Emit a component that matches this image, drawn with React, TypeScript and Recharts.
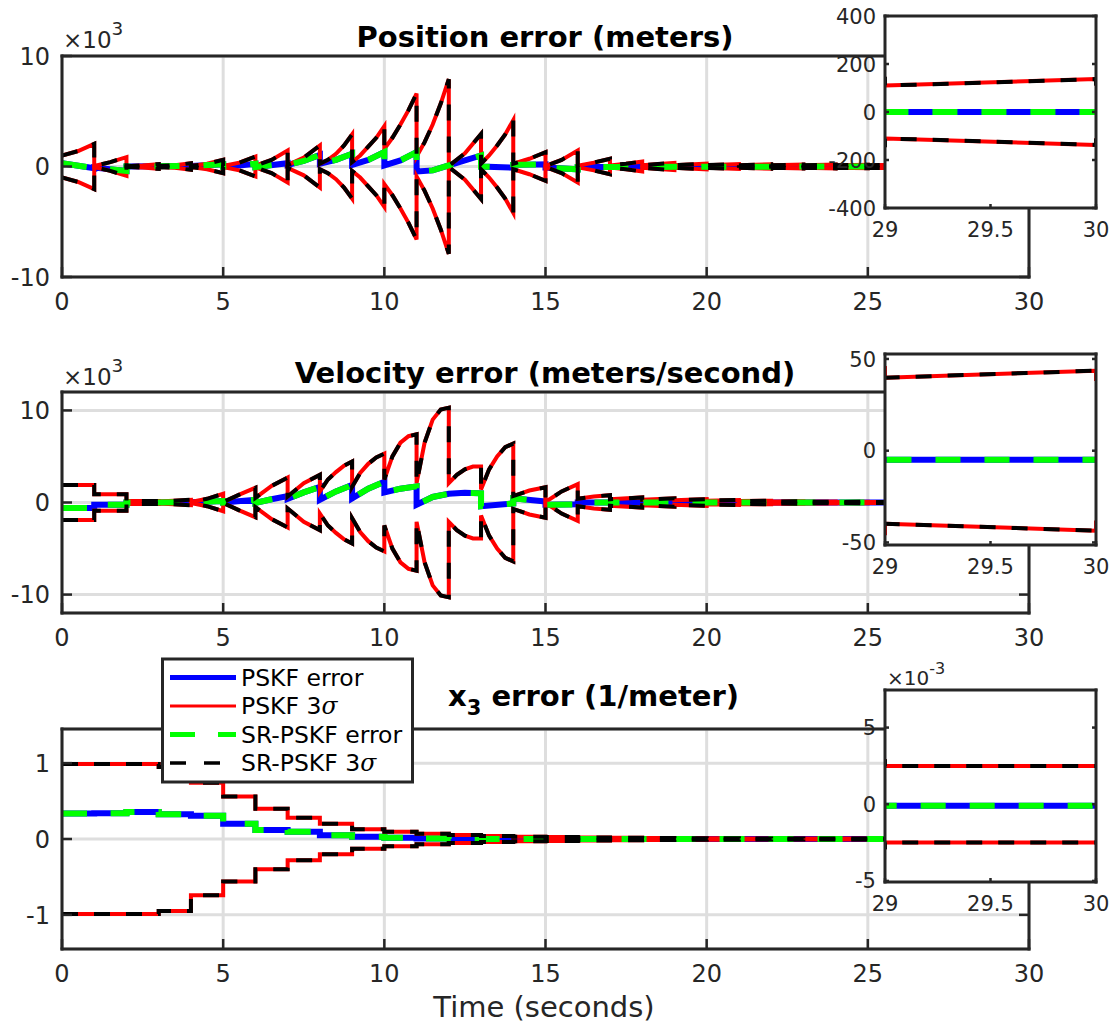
// Three-panel filter error plot (position, velocity, x3) with 3-sigma bounds
// and a zoomed inset on the last second of each panel.

import React from 'react';
import { LineChart, Line, XAxis, YAxis, CartesianGrid } from 'recharts';

const FONT = '"DejaVu Sans", Verdana, sans-serif';
const INK = '#262626';
const GRID = '#dedede';
const BLUE = '#0000ff';
const RED = '#ff0000';
const GREEN = '#00ff00';
const BLACK = '#000000';

type Pair = [number, number];
type Pt = { t: number; v: number };

// position, x10^3 m  ([time, value]); lower bound is the negative of sigma
const posSigma: Pair[] = [
  [0, 1.0], [0.5, 1.4], [1, 2.05],
  [1, 0.05], [1.5, 0.4], [2, 0.85],
  [2, 0.03], [2.5, 0.1], [3, 0.22],
  [3, 0.05], [3.5, 0.12], [4, 0.3],
  [4, 0.05], [4.5, 0.25], [5, 0.6],
  [5, 0.05], [5.5, 0.35], [6, 0.9],
  [6, 0.08], [6.5, 0.6], [7, 1.45],
  [7, 0.12], [7.5, 0.8], [8, 1.9],
  [8, 0.25], [8.25, 0.6], [8.5, 1.15], [8.75, 1.9], [9, 2.9],
  [9, 0.4], [9.25, 1.0], [9.5, 1.8], [9.75, 2.6], [10, 3.65],
  [10, 1.6], [10.25, 2.6], [10.5, 3.8], [10.75, 5.1], [11, 6.6],
  [11, 0.9], [11.25, 2.2], [11.5, 3.8], [11.75, 5.7], [12, 7.9],
  [12, 0.05], [12.5, 1.2], [13, 2.95],
  [13, 0.25], [13.25, 1.0], [13.5, 1.9], [13.75, 2.9], [14, 4.2],
  [14, 0.25], [14.5, 0.7], [15, 1.3],
  [15, 0.05], [15.5, 0.6], [16, 1.45],
  [16, 0.08], [16.5, 0.35], [17, 0.7],
  [17, 0.1], [17.5, 0.25], [18, 0.45],
  [18, 0.12], [19, 0.33], [19, 0.12], [20, 0.27], [20, 0.12], [21, 0.23],
  [21, 0.11], [22, 0.2], [22, 0.11], [23, 0.18], [23, 0.11], [24, 0.17],
  [24, 0.11], [25, 0.16], [25, 0.11], [26, 0.15], [26, 0.11], [27, 0.145],
  [27, 0.11], [28, 0.14], [28, 0.11], [29, 0.138], [29, 0.11], [30, 0.137],
  [30, 0.11],
];
const posErr: Pair[] = [
  [0, 0.3], [1, -0.15], [1, -0.1], [2, -0.4], [2, 0], [4, 0.05], [5, 0.2],
  [5, 0], [5.5, 0.1], [6, 0.25], [6, -0.05], [7, 0.3], [7, 0.15], [7.5, 0.5],
  [8, 1.05], [8, 0.25], [8.5, 0.6], [9, 1.15], [9, 0.15], [9.5, 0.6], [10, 1.3],
  [10, 0.1], [10.5, 0.55], [11, 1.3], [11, -0.45], [11.5, -0.35], [12, 0.1],
  [12.5, 0.55], [13, 1.0], [13, 0], [14, -0.1], [14, 0.15], [15, 0.2],
  [15, -0.1], [16, -0.25], [16, -0.05], [18, -0.05], [20, -0.02], [25, 0], [30, 0],
];

// velocity, x10^3 m/s
const velSigma: Pair[] = [
  [0, 1.9], [1, 1.9], [1, 0.9], [2, 0.9], [2, 0.15], [3, 0.15],
  [3, 0.12], [4, 0.3], [4, 0.05], [4.5, 0.4], [5, 0.95],
  [5, 0.05], [5.5, 0.85], [6, 1.6], [6, 0.5], [6.5, 1.8], [7, 2.7],
  [7, 0.65], [7.5, 2.1], [8, 3.0],
  [8, 1.2], [8.25, 2.5], [8.5, 3.3], [8.75, 4.0], [9, 4.45],
  [9, 1.7], [9.25, 3.2], [9.5, 4.2], [9.75, 4.9], [10, 5.3],
  [10, 2.5], [10.25, 5.0], [10.5, 6.5], [10.75, 7.2], [11, 7.4],
  [11, 2.1], [11.25, 6.5], [11.5, 9.0], [11.75, 10.1], [12, 10.3],
  [12, 2.1], [12.25, 3.0], [12.5, 3.6], [12.75, 3.9], [13, 3.9],
  [13, 1.4], [13.25, 3.6], [13.5, 5.0], [13.75, 6.0], [14, 6.4],
  [14, 0.7], [14.5, 1.3], [15, 1.65],
  [15, 0.05], [15.5, 1.2], [16, 2.0],
  [16, 0.4], [16.5, 0.65], [17, 0.8],
  [17, 0.35], [18, 0.55], [18, 0.3], [19, 0.45], [19, 0.25], [20, 0.36],
  [20, 0.2], [21, 0.28], [21, 0.15], [22, 0.2], [22, 0.1], [23, 0.14],
  [23, 0.075], [24, 0.1], [24, 0.06], [25, 0.075], [25, 0.05], [26, 0.06],
  [26, 0.045], [27, 0.052], [27, 0.042], [28, 0.048], [28, 0.04], [29, 0.045],
  [29, 0.0398], [30, 0.0436], [30, 0.038],
];
const velErr: Pair[] = [
  [0, -0.6], [1, -0.6], [1, -0.25], [2, -0.25], [2, 0], [4, 0.02], [5, 0.15],
  [5, 0], [6, 0.3], [6, -0.05], [6.5, 0.35], [7, 0.7], [7, 0.4], [7.5, 1.1],
  [8, 1.7], [8, 0.3], [8.5, 1.2], [9, 1.9], [9, 0.45], [9.5, 1.5], [10, 2.25],
  [10, 1.1], [10.5, 1.5], [11, 1.75], [11, -0.25], [11.5, 0.6], [12, 0.95],
  [12.5, 1.05], [13, 1.0], [13, -0.4], [14, -0.1], [14, 0.45], [15, 0.1],
  [15, -0.25], [16, -0.2], [16, 0], [17, 0], [20, -0.005], [30, -0.005],
];

// x3, 1/m: each value holds until the next time (step)
const x3Sigma: Pair[] = [
  [0, 0.99], [3, 0.95], [4, 0.74], [5, 0.56], [6, 0.4], [7, 0.28], [8, 0.2],
  [9, 0.13], [10, 0.095], [11, 0.07], [12, 0.052], [13, 0.04], [14, 0.031],
  [15, 0.025], [16, 0.02], [17, 0.016], [18, 0.013], [19, 0.011], [20, 0.009],
  [21, 0.0078], [22, 0.0067], [23, 0.0058], [24, 0.005], [25, 0.0043],
  [26, 0.0037], [27, 0.0032], [28, 0.0028], [29, 0.0025], [30, 0.0025],
];
const x3Err: Pair[] = [
  [0, 0.335], [1, 0.34], [2, 0.355], [3, 0.325], [4, 0.305], [5, 0.2],
  [6, 0.12], [7, 0.095], [8, 0.05], [9, 0.03], [10, 0.018], [11, 0.006],
  [12, 0.002], [13, 0.0005], [15, 0], [20, -0.0001], [30, -0.0001],
];

const mainTicksX = [0, 5, 10, 15, 20, 25, 30];
const insetTicksX = [29, 29.5, 30];
const posTicksY = [-10, 0, 10];
const velTicksY = [-10, 0, 10];
const x3TicksY = [-1, 0, 1];
const posInsetTicksY = [-0.4, -0.2, 0, 0.2, 0.4];
const velInsetTicksY = [-0.05, 0, 0.05];
const x3InsetTicksY = [-0.005, 0, 0.005];

const toPts = (p: Pair[]): Pt[] => p.map(([t, v]) => ({ t, v }));
const plain = (v: number) => String(v);
const milli = (v: number) => String(Math.round(v * 1000));

type Side = 'bottom' | 'top' | 'left' | 'right';
type Box = { x: number; y: number; w: number; h: number };

function tickFn(side: Side, len: number, font: number, gap: number, fmt?: (v: number) => string) {
  return (p: any) => {
    const { x, y } = p;
    const v = p.payload.value as number;
    const dx = side === 'left' ? len : side === 'right' ? -len : 0;
    const dy = side === 'bottom' ? -len : side === 'top' ? len : 0;
    return (
      <g>
        <line x1={x} y1={y} x2={x + dx} y2={y + dy} stroke={INK} strokeWidth={2.5} />
        {fmt && side === 'bottom' && (
          <text x={x} y={y + gap} dy="0.72em" textAnchor="middle" fontSize={font} fill={INK} fontFamily={FONT}>
            {fmt(v)}
          </text>
        )}
        {fmt && side === 'left' && (
          <text x={x - gap} y={y} dy="0.36em" textAnchor="end" fontSize={font} fill={INK} fontFamily={FONT}>
            {fmt(v)}
          </text>
        )}
      </g>
    );
  };
}

const M = 60;

interface PanelProps {
  box: Box;
  xDomain: [number, number];
  xTicks: number[];
  yDomain: [number, number];
  yTicks: number[];
  yFmt: (v: number) => string;
  font: number;
  tickLen: number;
  xGap: number;
  yGap: number;
  err: Pt[];
  sigma: Pt[];
  step?: boolean;
  grid?: boolean;
  inset?: boolean;
}

function Panel(props: PanelProps) {
  const { box, xDomain, xTicks, yDomain, yTicks, yFmt, font, tickLen, xGap, yGap, err, sigma } = props;
  const curve = props.step ? 'stepAfter' : 'linear';
  const axisLine = { stroke: INK, strokeWidth: 3, strokeLinecap: 'square' as const };
  const neg = (d: Pt) => -d.v;
  const common = { dot: false, activeDot: false, isAnimationActive: false, type: curve as any };
  // axes are 1px thick so recharts draws them; margins give the plot box back
  const m = M - 1;

  return (
    <>
      {props.inset && (
        <div style={{ position: 'absolute', left: box.x, top: box.y, width: box.w, height: box.h, background: '#fff' }} />
      )}
      <div style={{ position: 'absolute', left: box.x - M, top: box.y - M }}>
        <LineChart width={box.w + 2 * M} height={box.h + 2 * M} margin={{ top: m, right: m, bottom: m, left: m }}>
          {props.grid && <CartesianGrid stroke={GRID} strokeWidth={3} />}

          <Line {...common} data={err} dataKey="v" stroke={BLUE} strokeWidth={6} />
          <Line {...common} data={sigma} dataKey="v" stroke={RED} strokeWidth={4} />
          <Line {...common} data={sigma} dataKey={neg} stroke={RED} strokeWidth={4} />
          <Line {...common} data={err} dataKey="v" stroke={GREEN} strokeWidth={6} strokeDasharray="25 24" />
          <Line {...common} data={sigma} dataKey="v" stroke={BLACK} strokeWidth={4} strokeDasharray="16 16" />
          <Line {...common} data={sigma} dataKey={neg} stroke={BLACK} strokeWidth={4} strokeDasharray="16 16" />

          <XAxis type="number" dataKey="t" domain={xDomain} ticks={xTicks} allowDataOverflow interval={0}
            height={1} tickSize={0} tickMargin={0} tickLine={false} axisLine={axisLine}
            tick={tickFn('bottom', tickLen, font, xGap, plain)} />
          <XAxis xAxisId="top" orientation="top" type="number" domain={xDomain} ticks={xTicks} allowDataOverflow
            interval={0} height={1} tickSize={0} tickMargin={0} tickLine={false} axisLine={axisLine}
            tick={tickFn('top', tickLen, font, 0)} />
          <YAxis type="number" domain={yDomain} ticks={yTicks} allowDataOverflow interval={0}
            width={1} tickSize={0} tickMargin={0} tickLine={false} axisLine={axisLine}
            tick={tickFn('left', tickLen, font, yGap, yFmt)} />
          <YAxis yAxisId="right" orientation="right" type="number" domain={yDomain} ticks={yTicks}
            allowDataOverflow interval={0} width={1} tickSize={0} tickMargin={0} tickLine={false}
            axisLine={axisLine} tick={tickFn('right', tickLen, font, 0)} />
        </LineChart>
      </div>
    </>
  );
}

function Exponent({ x, y, exp, size }: { x: number; y: number; exp: string; size: number }) {
  return (
    <text x={x} y={y} fontSize={size} fill={INK}>
      ×10
      <tspan dy={-size * 0.55} fontSize={size * 0.8}>{exp}</tspan>
    </text>
  );
}

function LegendBox() {
  const rows = [
    { y: 677.5, stroke: BLUE, w: 5, dash: undefined, label: 'PSKF error', sigma: false },
    { y: 706, stroke: RED, w: 3, dash: undefined, label: 'PSKF 3', sigma: true },
    { y: 734.5, stroke: GREEN, w: 5, dash: '25 23', label: 'SR-PSKF error', sigma: false },
    { y: 763, stroke: BLACK, w: 3.5, dash: '16 18', label: 'SR-PSKF 3', sigma: true },
  ];
  return (
    <svg width={1115} height={1026} style={{ position: 'absolute', left: 0, top: 0, pointerEvents: 'none' }}>
      <rect x={162.5} y={659} width={250} height={123} fill="#fff" stroke={INK} strokeWidth={3} />
      {rows.map((r) => (
        <g key={r.label}>
          <line x1={170} x2={236} y1={r.y} y2={r.y} stroke={r.stroke} strokeWidth={r.w} strokeDasharray={r.dash} />
          <text x={241} y={r.y} dy="0.36em" fontSize={23.5} fill="#000" fontFamily={FONT}>
            {r.label}
            {r.sigma && <tspan fontStyle="italic" fontFamily='"DejaVu Serif", serif'>σ</tspan>}
          </text>
        </g>
      ))}
    </svg>
  );
}

export default function App() {
  const mainFont = 24;
  const insetFont = 21;
  return (
    <div style={{ position: 'absolute', left: 0, top: 0, width: 1115, height: 1026, overflow: 'hidden', background: '#fff', fontFamily: FONT }}>
      {/* position */}
      <Panel box={{ x: 62, y: 56, w: 967, h: 221 }} xDomain={[0, 30]} xTicks={mainTicksX}
        yDomain={[-10, 10]} yTicks={posTicksY} yFmt={plain} font={mainFont} tickLen={10}
        xGap={16} yGap={12} err={toPts(posErr)} sigma={toPts(posSigma)} grid />
      <Panel box={{ x: 885, y: 16, w: 211, h: 192 }} xDomain={[29, 30]} xTicks={insetTicksX}
        yDomain={[-0.4, 0.4]} yTicks={posInsetTicksY} yFmt={milli} font={insetFont} tickLen={4}
        xGap={14} yGap={9} err={toPts(posErr)} sigma={toPts(posSigma)} inset />

      {/* velocity */}
      <Panel box={{ x: 62, y: 392, w: 967, h: 221 }} xDomain={[0, 30]} xTicks={mainTicksX}
        yDomain={[-12, 12]} yTicks={velTicksY} yFmt={plain} font={mainFont} tickLen={10}
        xGap={16} yGap={12} err={toPts(velErr)} sigma={toPts(velSigma)} grid />
      <Panel box={{ x: 885, y: 354, w: 211, h: 191 }} xDomain={[29, 30]} xTicks={insetTicksX}
        yDomain={[-0.0514, 0.0527]} yTicks={velInsetTicksY} yFmt={milli} font={insetFont} tickLen={4}
        xGap={14} yGap={9} err={toPts(velErr)} sigma={toPts(velSigma)} inset />

      {/* x3 */}
      <Panel box={{ x: 62, y: 729, w: 967, h: 220 }} xDomain={[0, 30]} xTicks={mainTicksX}
        yDomain={[-1.45, 1.45]} yTicks={x3TicksY} yFmt={plain} font={mainFont} tickLen={10}
        xGap={16} yGap={12} err={toPts(x3Err)} sigma={toPts(x3Sigma)} step grid />
      <Panel box={{ x: 885, y: 690, w: 211, h: 192 }} xDomain={[29, 30]} xTicks={insetTicksX}
        yDomain={[-0.00507, 0.00745]} yTicks={x3InsetTicksY} yFmt={milli} font={insetFont} tickLen={4}
        xGap={14} yGap={9} err={toPts(x3Err)} sigma={toPts(x3Sigma)} step inset />

      <svg width={1115} height={1026} style={{ position: 'absolute', left: 0, top: 0, pointerEvents: 'none' }} fontFamily={FONT}>
        <text x={545} y={47} textAnchor="middle" fontSize={29} fontWeight="bold" fill="#000">Position error (meters)</text>
        <text x={545} y={383} textAnchor="middle" fontSize={29} fontWeight="bold" fill="#000">Velocity error (meters/second)</text>
        <text x={448} y={706} fontSize={29} fontWeight="bold" fill="#000">
          x<tspan dy={9} fontSize={21}>3</tspan>
          <tspan dy={-9}> error (1/meter)</tspan>
        </text>
        <Exponent x={63} y={48} exp="3" size={23} />
        <Exponent x={63} y={385} exp="3" size={23} />
        <Exponent x={887} y={685} exp="-3" size={20} />
        <text x={544} y={1017} textAnchor="middle" fontSize={29} fill={INK}>Time (seconds)</text>
      </svg>

      <LegendBox />
    </div>
  );
}
